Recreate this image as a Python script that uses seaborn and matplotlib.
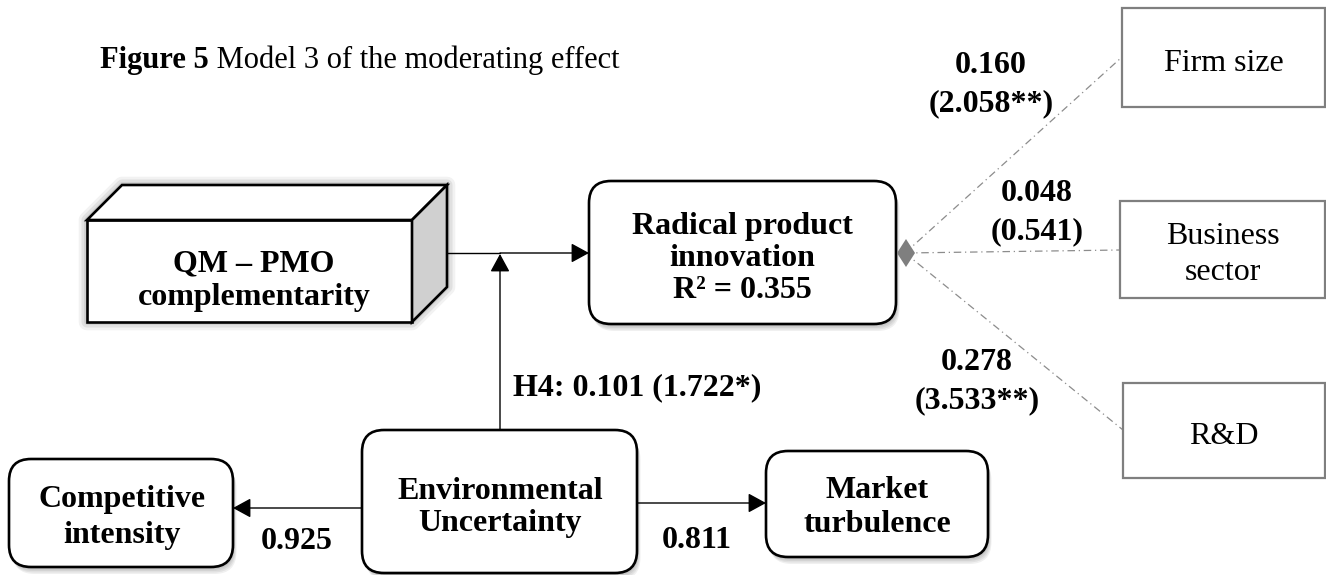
import matplotlib
matplotlib.use("Agg")
from matplotlib import pyplot as plt
from matplotlib.patches import FancyBboxPatch, Rectangle, Polygon
import seaborn as sns

sns.set_theme(style="white")
plt.rcParams['font.family'] = ['Liberation Serif', 'DejaVu Serif']
plt.rcParams['text.color'] = 'black'

# model values
title_bold = "Figure 5"
title_rest = " Model 3 of the moderating effect"
independent = "QM – PMO\ncomplementarity"
dependent = "Radical product\ninnovation"
r_squared = 0.355
moderator = "Environmental\nUncertainty"
dimensions = ["Competitive\nintensity", "Market\nturbulence"]
loadings = [0.925, 0.811]
h4_coef = 0.101
h4_t = "1.722*"
controls = ["Firm size", "Business\nsector", "R&D"]
control_coef = [0.160, 0.048, 0.278]
control_t = ["2.058**", "0.541", "3.533**"]

W, H = 1326, 575
FS = 23

fig = plt.figure(figsize=(W / 100, H / 100), dpi=100)
ax = fig.add_axes([0, 0, 1, 1])
ax.set_xlim(0, W)
ax.set_ylim(H, 0)
ax.axis('off')


def put_lines(x, y, text, step=32, weight='bold', size=FS):
    parts = text.split("\n")
    y0 = y - step * (len(parts) - 1) / 2
    for i, p in enumerate(parts):
        ax.text(x, y0 + i * step, p, ha='center', va='center_baseline',
                fontsize=size, fontweight=weight, color='black', zorder=6)


def round_node(x0, y0, x1, y1):
    # soft shadow to the lower right
    for d in [7, 5.5, 4, 2.5]:
        ax.add_patch(FancyBboxPatch((x0 + d * 0.5, y0 + d), x1 - x0, y1 - y0,
                                    boxstyle="round,pad=0,rounding_size=22",
                                    fc='black', ec='none', alpha=0.06, zorder=2))
    ax.add_patch(FancyBboxPatch((x0, y0), x1 - x0, y1 - y0,
                                boxstyle="round,pad=0,rounding_size=22",
                                fc='white', ec='black', lw=1.9, zorder=3))


def arrow(p0, p1):
    ax.annotate("", xy=p1, xytext=p0, zorder=4,
                arrowprops=dict(arrowstyle="-|>,head_length=0.55,head_width=0.3",
                                mutation_scale=20, color='black', lw=1.0,
                                shrinkA=0, shrinkB=0))


# title
t = ax.text(100, 68, title_bold, fontsize=22, fontweight='bold', ha='left', va='baseline')
ax.annotate(title_rest, xy=(1, 0), xycoords=t, ha='left', va='bottom', fontsize=22)

# 3D box for the independent variable
front = [(87, 220), (412, 220), (412, 322), (87, 322)]
top = [(87, 220), (122, 185), (447, 185), (412, 220)]
side = [(412, 220), (447, 185), (447, 287), (412, 322)]
outline = [(87, 220), (122, 185), (447, 185), (447, 287), (412, 322), (87, 322)]
for lw, a in [(12, 0.05), (8, 0.07), (4, 0.08)]:
    ax.add_patch(Polygon(outline, closed=True, fc='none', ec='black', lw=lw, alpha=a,
                         joinstyle='round', zorder=2))
ax.add_patch(Polygon(front, closed=True, fc='white', ec='black', lw=1.9, zorder=3))
ax.add_patch(Polygon(top, closed=True, fc='white', ec='black', lw=1.9, zorder=3))
ax.add_patch(Polygon(side, closed=True, fc='#d0d0d0', ec='black', lw=1.9, zorder=3))
put_lines(254, 277, independent, step=33)

# rounded nodes
round_node(589, 181, 896, 324)
put_lines(742, 255, dependent + f"\nR² = {r_squared:.3f}", step=32)

round_node(362, 430, 637, 573)
put_lines(500, 504, moderator, step=32)

round_node(9, 459, 233, 567)
put_lines(122, 514, dimensions[0], step=35)

round_node(766, 451, 988, 557)
put_lines(877, 504, dimensions[1], step=35)

# structural arrows
ax.plot([447, 500], [253, 253], color='black', lw=1.0, zorder=4)
arrow((500, 253), (589, 253))
arrow((500, 430), (500, 254))
arrow((362, 508), (233, 508))
arrow((637, 503), (766, 503))

ax.text(513, 384, f"H4: {h4_coef:.3f} ({h4_t})", ha='left', va='center_baseline',
        fontsize=FS, fontweight='bold')
ax.text(297, 538, f"{loadings[0]:.3f}", ha='center', va='center_baseline',
        fontsize=FS, fontweight='bold')
ax.text(697, 537, f"{loadings[1]:.3f}", ha='center', va='center_baseline',
        fontsize=FS, fontweight='bold')

# control variables
ctrl_boxes = [(1122, 8, 1325, 107), (1120, 201, 1325, 298), (1123, 383, 1325, 478)]
ctrl_text_y = [60, 251, 433]
ctrl_text_step = [32, 37, 32]
ctrl_ends = [(1122, 57), (1120, 250), (1123, 430)]
coef_pos = [(991, 81), (1037, 209), (977, 378)]
origin = (905, 253)

for name, coef, tv, box, ty, st, end, cp in zip(controls, control_coef, control_t, ctrl_boxes,
                                                ctrl_text_y, ctrl_text_step, ctrl_ends, coef_pos):
    x0, y0, x1, y1 = box
    ax.add_patch(Rectangle((x0, y0), x1 - x0, y1 - y0, fc='white', ec='#7f7f7f', lw=1.6, zorder=3))
    put_lines((x0 + x1) / 2, ty, name, step=st, weight='normal')
    ax.plot([origin[0], end[0]], [origin[1], end[1]], color='#8c8c8c', lw=0.9,
            linestyle=(0, (6, 3, 1, 3)), zorder=2)
    put_lines(cp[0], cp[1], f"{coef:.3f}\n({tv})", step=38)

ax.add_patch(Polygon([(897, 253), (906, 239), (915, 253), (906, 267)], closed=True,
                     fc='#7f7f7f', ec='none', zorder=5))

fig.savefig("out.png", dpi=100, facecolor='white')
